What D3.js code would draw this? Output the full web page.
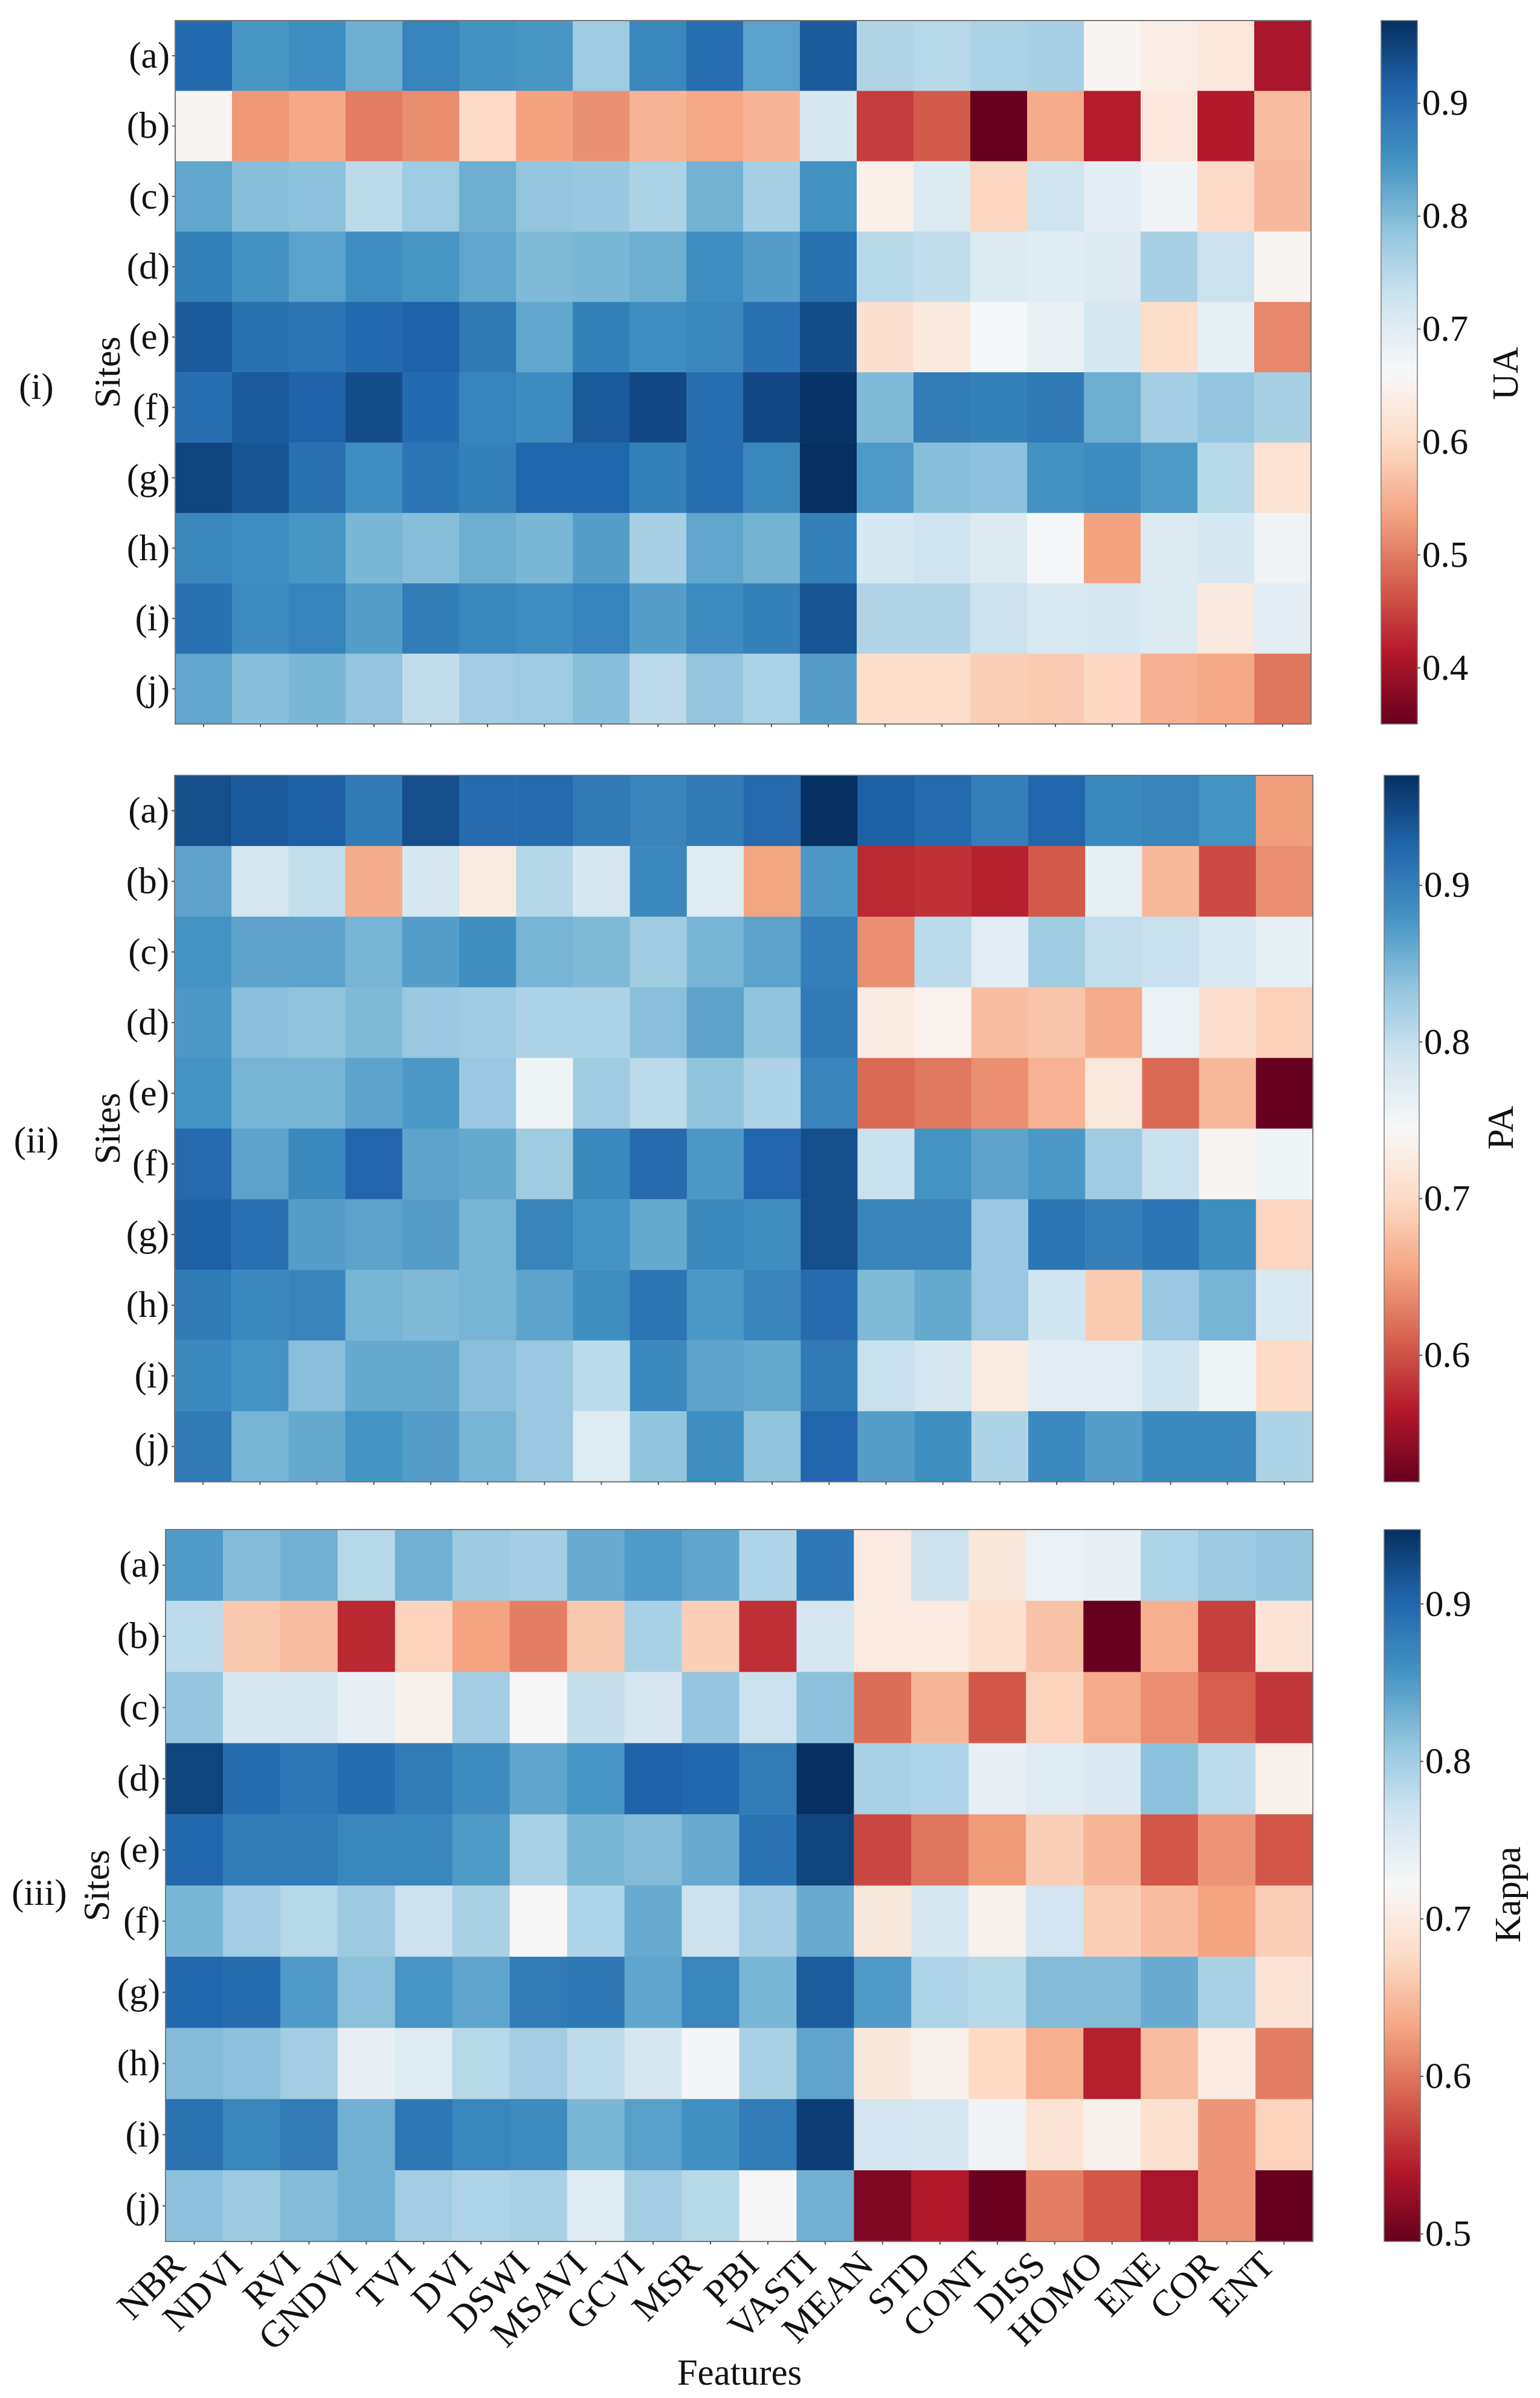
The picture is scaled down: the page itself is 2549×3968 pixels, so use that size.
<!DOCTYPE html>
<html>
<head>
<meta charset="utf-8">
<script src="https://cdn.jsdelivr.net/npm/d3@7"></script>
<style>
  body { margin: 0; background: #fff; }
  text { font-family: "Liberation Serif", serif; fill: #111; }
</style>
</head>
<body>
<div id="chart"></div>
<script>
// rows and columns
var sites = ['(a)','(b)','(c)','(d)','(e)','(f)','(g)','(h)','(i)','(j)']
var features = ['NBR','NDVI','RVI','GNDVI','TVI','DVI','DSWI','MSAVI','GCVI','MSR','PBI','VASTI','MEAN','STD','CONT','DISS','HOMO','ENE','COR','ENT']

// values, one row per site
var uaValues = [
  [.905,.845,.855,.815,.87,.85,.845,.775,.865,.90,.83,.925,.755,.75,.76,.765,.655,.64,.625,.405],
  [.655,.525,.54,.50,.515,.60,.535,.52,.555,.54,.555,.715,.445,.47,.35,.545,.415,.625,.412,.565],
  [.825,.795,.79,.745,.775,.815,.785,.78,.76,.81,.765,.85,.645,.705,.595,.725,.695,.675,.60,.56],
  [.875,.85,.83,.855,.845,.825,.80,.805,.815,.855,.835,.895,.75,.74,.705,.70,.705,.765,.73,.655],
  [.925,.895,.89,.905,.915,.885,.825,.875,.855,.865,.895,.94,.61,.63,.665,.685,.715,.605,.69,.51],
  [.90,.925,.915,.94,.905,.87,.86,.925,.945,.90,.945,.968,.80,.88,.875,.885,.815,.77,.785,.765],
  [.95,.93,.895,.855,.89,.875,.91,.91,.875,.90,.865,.973,.84,.795,.79,.85,.86,.84,.75,.615],
  [.865,.855,.845,.805,.795,.815,.805,.835,.765,.825,.81,.875,.715,.725,.705,.665,.535,.705,.715,.675],
  [.895,.86,.87,.835,.88,.865,.855,.87,.835,.86,.875,.93,.755,.755,.73,.71,.715,.705,.63,.695],
  [.825,.795,.805,.785,.74,.77,.775,.795,.745,.785,.76,.835,.605,.605,.585,.58,.595,.55,.54,.495]
]
var paValues = [
  [.945,.935,.93,.905,.945,.92,.92,.905,.895,.905,.92,.97,.93,.92,.90,.925,.89,.895,.88,.65],
  [.865,.785,.80,.66,.785,.725,.81,.785,.89,.775,.655,.875,.575,.58,.57,.605,.765,.67,.595,.64],
  [.88,.865,.865,.85,.87,.885,.85,.845,.825,.85,.865,.90,.64,.805,.77,.825,.80,.795,.78,.765],
  [.875,.84,.835,.845,.83,.825,.815,.815,.84,.865,.835,.905,.725,.735,.675,.68,.66,.76,.705,.69],
  [.88,.85,.85,.865,.875,.83,.755,.825,.805,.835,.815,.895,.615,.625,.64,.665,.72,.615,.67,.519],
  [.92,.865,.89,.925,.865,.86,.825,.89,.92,.875,.925,.945,.795,.88,.865,.875,.825,.795,.74,.755],
  [.93,.915,.87,.865,.87,.85,.895,.88,.86,.89,.885,.945,.895,.895,.83,.91,.90,.91,.885,.695],
  [.905,.89,.895,.85,.845,.85,.865,.885,.91,.875,.895,.92,.845,.86,.83,.79,.685,.83,.85,.78],
  [.89,.88,.84,.86,.86,.84,.83,.805,.89,.865,.86,.905,.795,.785,.725,.77,.77,.79,.755,.70],
  [.905,.85,.86,.88,.87,.85,.83,.775,.835,.885,.835,.925,.87,.885,.815,.89,.87,.89,.89,.815]
]
var kappaValues = [
  [.85,.82,.83,.785,.83,.805,.80,.835,.85,.84,.79,.885,.70,.77,.695,.735,.74,.79,.805,.81],
  [.78,.66,.65,.55,.67,.63,.605,.66,.795,.665,.555,.76,.70,.70,.685,.655,.495,.64,.565,.69],
  [.81,.76,.76,.74,.71,.80,.72,.775,.76,.81,.77,.815,.595,.645,.58,.67,.635,.615,.585,.56],
  [.93,.895,.885,.895,.88,.865,.84,.855,.905,.90,.88,.947,.795,.79,.74,.75,.755,.815,.78,.71],
  [.90,.88,.88,.87,.87,.85,.795,.825,.82,.835,.89,.93,.57,.60,.625,.665,.645,.58,.62,.58],
  [.825,.80,.785,.805,.77,.795,.72,.79,.835,.77,.80,.835,.695,.76,.71,.765,.665,.65,.63,.665],
  [.90,.895,.85,.815,.855,.84,.88,.885,.84,.87,.825,.91,.85,.79,.785,.82,.82,.835,.795,.69],
  [.82,.815,.80,.74,.75,.785,.80,.78,.76,.725,.795,.84,.695,.71,.675,.64,.545,.65,.70,.605],
  [.89,.87,.88,.83,.885,.87,.865,.825,.845,.86,.88,.935,.765,.76,.73,.69,.71,.685,.62,.67],
  [.815,.805,.82,.83,.80,.79,.795,.75,.80,.785,.72,.83,.51,.54,.497,.605,.58,.535,.62,.495]
]

// colourbar limits and ticks
var uaDomain = [.35, .973]
var paDomain = [.519, .97]
var kappaDomain = [.495, .947]
var uaTicks = [.4,.5,.6,.7,.8,.9]
var paTicks = [.6,.7,.8,.9]
var kappaTicks = [.5,.6,.7,.8,.9]

var fs = 61 // font size of nearly all text
var fsx = 62 // rotated feature labels

var svg = d3.select('#chart').append('svg')
  .attr('width', 2549)
  .attr('height', 3968)
  .style('display', 'block')

// shared colourbar gradient, same ramp for the three panels
var grad = svg.append('defs').append('linearGradient')
  .attr('id', 'rdbu')
  .attr('x1', 0).attr('x2', 0).attr('y1', 1).attr('y2', 0)
d3.schemeRdBu[11].forEach(function(c, i) {
  grad.append('stop').attr('offset', i / 10).attr('stop-color', c)
})

function styleAxis(g) {
  g.select('.domain').remove()
  g.selectAll('.tick line').attr('stroke', '#555').attr('stroke-width', 2)
  g.selectAll('.tick text').attr('font-size', fs).attr('fill', '#111')
}

// one heatmap + its colourbar
function drawPanel(p) {
  var x = d3.scaleBand().domain(features).range([p.x0, p.x1])
  var y = d3.scaleBand().domain(sites).range([p.y0, p.y1])

  var step = (p.domain[1] - p.domain[0]) / 10
  var color = d3.scaleLinear()
    .domain(d3.range(11).map(function(i) { return p.domain[0] + i * step }))
    .range(d3.schemeRdBu[11])
    .clamp(true)

  var cells = []
  p.values.forEach(function(row, r) {
    row.forEach(function(v, c) {
      cells.push({ site: sites[r], feature: features[c], value: v })
    })
  })

  svg.append('g').selectAll('rect')
    .data(cells)
    .join('rect')
    .attr('x', function(d) { return x(d.feature) })
    .attr('y', function(d) { return y(d.site) })
    .attr('width', x.bandwidth() + 0.5)
    .attr('height', y.bandwidth() + 0.5)
    .attr('fill', function(d) { return color(d.value) })

  // frame
  svg.append('rect')
    .attr('x', p.x0).attr('y', p.y0)
    .attr('width', p.x1 - p.x0).attr('height', p.y1 - p.y0)
    .attr('fill', 'none').attr('stroke', '#777').attr('stroke-width', 2)

  // left axis
  svg.append('g')
    .attr('transform', 'translate(' + p.x0 + ',0)')
    .call(d3.axisLeft(y).tickSize(5).tickPadding(4))
    .call(styleAxis)

  // bottom axis, labels only on the last panel
  var xAxis = svg.append('g')
    .attr('transform', 'translate(0,' + p.y1 + ')')
    .call(d3.axisBottom(x).tickSize(5).tickFormat(p.xLabels ? null : ''))
    .call(styleAxis)
  if (p.xLabels) {
    xAxis.selectAll('.tick text')
      .attr('font-size', fsx)
      .attr('text-anchor', 'end')
      .attr('dy', 0)
      .attr('y', 0)
      .attr('transform', 'translate(-12,42) rotate(-45)')
  }

  svg.append('text')
    .attr('transform', 'translate(' + p.sitesX + ',' + (p.y0 + p.y1) / 2 + ') rotate(-90)')
    .attr('text-anchor', 'middle')
    .attr('dy', '0.32em')
    .attr('font-size', fs)
    .text('Sites')

  svg.append('text')
    .attr('x', p.tagX).attr('y', (p.y0 + p.y1) / 2 + p.tagDy)
    .attr('text-anchor', 'middle')
    .attr('dy', '0.32em')
    .attr('font-size', fs)
    .text(p.tag)

  // colourbar
  svg.append('rect')
    .attr('x', p.cbX0).attr('y', p.y0)
    .attr('width', p.cbX1 - p.cbX0).attr('height', p.y1 - p.y0)
    .attr('fill', 'url(#rdbu)')
    .attr('stroke', '#777').attr('stroke-width', 1.5)

  var cbScale = d3.scaleLinear().domain(p.domain).range([p.y1, p.y0])
  svg.append('g')
    .attr('transform', 'translate(' + p.cbX1 + ',0)')
    .call(d3.axisRight(cbScale).tickValues(p.ticks).tickFormat(d3.format('.1f')).tickSize(5).tickPadding(3))
    .call(styleAxis)

  svg.append('text')
    .attr('transform', 'translate(' + p.cbLabelX + ',' + p.cbLabelY + ') rotate(-90)')
    .attr('text-anchor', 'middle')
    .attr('dy', '0.32em')
    .attr('font-size', fs)
    .text(p.label)
}

drawPanel({
  values: uaValues, domain: uaDomain, ticks: uaTicks, label: 'UA', tag: '(i)',
  x0: 290, x1: 2170, y0: 34, y1: 1198,
  cbX0: 2286, cbX1: 2346, cbLabelX: 2492, cbLabelY: 618,
  sitesX: 178, tagX: 60, tagDy: 24, xLabels: false
})
drawPanel({
  values: paValues, domain: paDomain, ticks: paTicks, label: 'PA', tag: '(ii)',
  x0: 289, x1: 2173, y0: 1283, y1: 2452,
  cbX0: 2291, cbX1: 2349, cbLabelX: 2484, cbLabelY: 1866,
  sitesX: 178, tagX: 60, tagDy: 20, xLabels: false
})
drawPanel({
  values: kappaValues, domain: kappaDomain, ticks: kappaTicks, label: 'Kappa', tag: '(iii)',
  x0: 274, x1: 2173, y0: 2531, y1: 3709,
  cbX0: 2291, cbX1: 2351, cbLabelX: 2496, cbLabelY: 3135,
  sitesX: 160, tagX: 65, tagDy: 12, xLabels: true
})

svg.append('text')
  .attr('x', 1224).attr('y', 3946)
  .attr('text-anchor', 'middle')
  .attr('font-size', fs)
  .text('Features')
</script>
</body>
</html>
